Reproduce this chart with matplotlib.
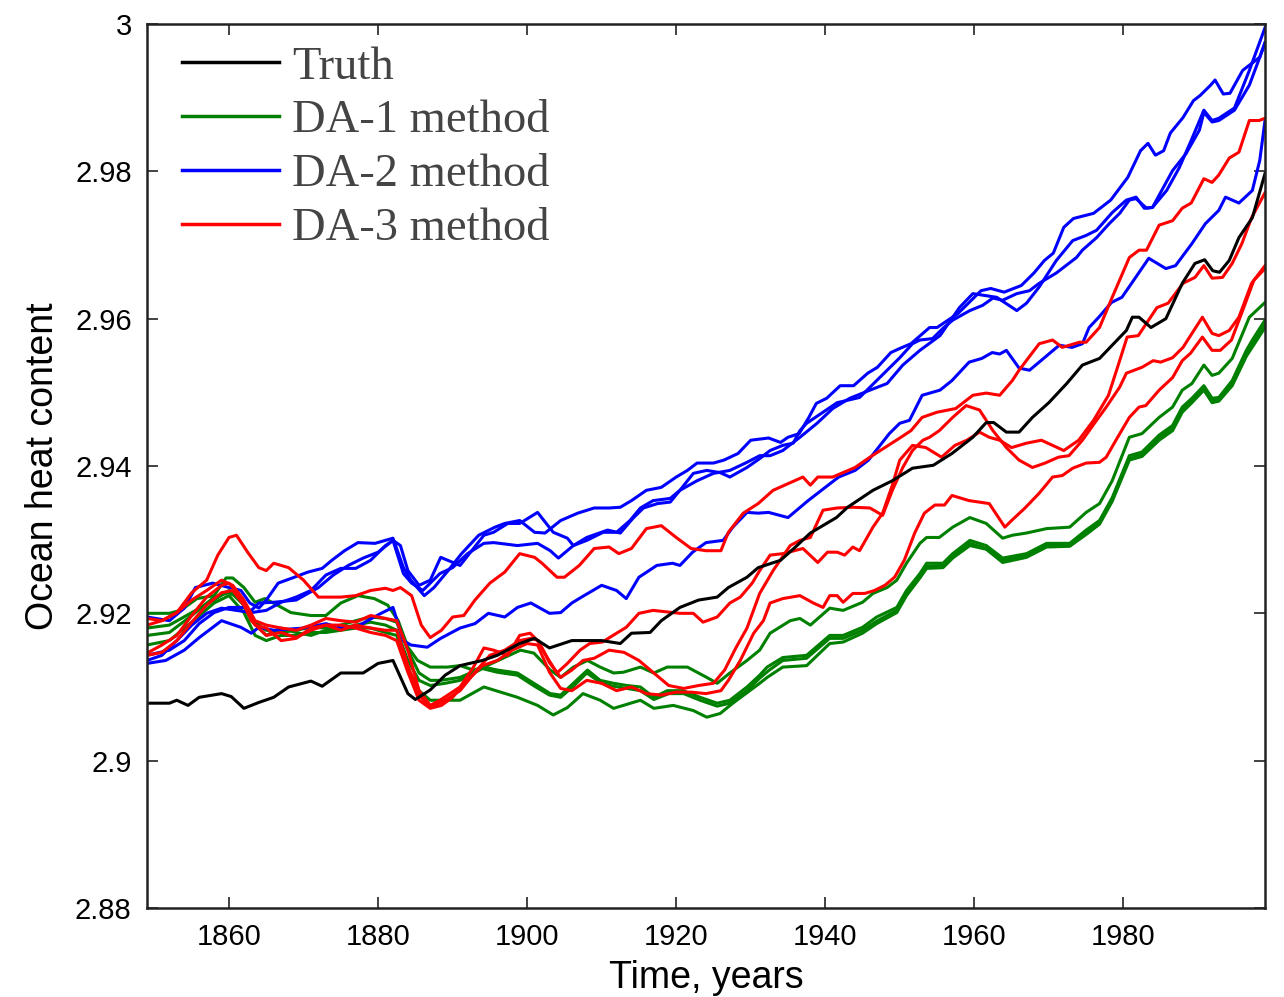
import matplotlib
matplotlib.use("Agg")
import matplotlib.pyplot as plt
import numpy as np
from matplotlib.lines import Line2D
from matplotlib.ticker import FixedLocator, FuncFormatter

# ---- data: (year, ocean heat content) ----
truth = [(1849, 2.9078), (1852, 2.9078), (1853, 2.9082), (1854.5, 2.9075), (1856, 2.9086),
         (1859, 2.9091), (1860.3, 2.9087), (1862, 2.9071), (1864, 2.9079), (1866, 2.9086),
         (1868, 2.9100), (1871, 2.9108), (1872.5, 2.9101), (1875, 2.9119), (1878, 2.9119),
         (1880, 2.9132), (1882, 2.9136), (1884, 2.9091), (1885, 2.9083), (1887, 2.9096),
         (1889, 2.9116), (1891, 2.9129), (1894, 2.9136), (1896, 2.9143), (1899, 2.9159),
         (1901, 2.9166), (1903, 2.9153), (1906, 2.9163), (1910, 2.9163), (1912.5, 2.9159),
         (1914, 2.9173), (1916.5, 2.9174), (1918, 2.9190), (1920.5, 2.9208), (1923, 2.9218),
         (1925.5, 2.9222), (1927, 2.9235), (1929.5, 2.9249), (1931, 2.9262), (1934, 2.9272),
         (1936, 2.9290), (1938, 2.9309), (1941.5, 2.9330), (1943, 2.9344), (1946.4, 2.9367),
         (1949, 2.9380), (1951.7, 2.9397), (1954.5, 2.9401), (1957, 2.9417), (1959.8, 2.9439),
         (1961.6, 2.9459), (1962.6, 2.9459), (1964.3, 2.9446), (1966, 2.9446), (1967.8, 2.9466),
         (1970, 2.9486), (1972.4, 2.9512), (1974.5, 2.9537), (1976.8, 2.9546), (1978.5, 2.9564),
         (1980.4, 2.9584), (1981.2, 2.9602), (1982.1, 2.9602), (1983.7, 2.9588), (1985.7, 2.9600),
         (1987.9, 2.9648), (1989.6, 2.9675), (1990.9, 2.9680), (1992, 2.9665), (1992.9, 2.9663),
         (1994.2, 2.9679), (1995.5, 2.9710), (1997.3, 2.9737), (1999, 2.9797)]

da1_a = [(1849, 2.9200), (1852, 2.9200), (1853.5, 2.9204), (1855.7, 2.9220), (1858, 2.9224),
         (1859.6, 2.9248), (1860.5, 2.9248), (1862, 2.9235), (1863.5, 2.9215), (1864.8, 2.9220),
         (1866.5, 2.9211), (1868.3, 2.9201), (1871, 2.9197), (1873, 2.9197), (1875, 2.9214),
         (1877.3, 2.9224), (1879.5, 2.9220), (1881.3, 2.9211), (1882.7, 2.9190), (1884, 2.9154),
         (1885.3, 2.9136), (1887, 2.9127), (1889.3, 2.9127), (1891, 2.9129), (1892.8, 2.9123),
         (1894.2, 2.9127), (1899.1, 2.9150), (1900.9, 2.9146), (1903.1, 2.9123), (1904.5, 2.9113),
         (1906.2, 2.9127), (1908.1, 2.9136), (1909.8, 2.9127), (1911.6, 2.9119), (1912.9, 2.9120),
         (1915.2, 2.9127), (1917, 2.9119), (1918.8, 2.9127), (1921.5, 2.9127), (1924.1, 2.9113),
         (1925.5, 2.9105), (1927.2, 2.9119), (1929.5, 2.9136), (1931.2, 2.9150), (1932.6, 2.9173),
         (1935.3, 2.9190), (1936.6, 2.9193), (1938, 2.9184), (1940.6, 2.9207), (1942.4, 2.9204),
         (1945, 2.9215), (1946.4, 2.9227), (1948.3, 2.9235), (1949.6, 2.9245), (1950.9, 2.9268),
         (1952.7, 2.9295), (1953.6, 2.9303), (1955.3, 2.9303), (1957.1, 2.9317), (1959.4, 2.9330),
         (1961.6, 2.9322), (1963.8, 2.9302), (1965.1, 2.9306), (1967, 2.9309), (1969.7, 2.9315),
         (1972.8, 2.9317), (1975, 2.9337), (1976.8, 2.9349), (1978.5, 2.9380), (1980.8, 2.9439),
         (1982.5, 2.9444), (1984.8, 2.9466), (1986.6, 2.9480), (1987.9, 2.9503), (1989.2, 2.9512),
         (1990.8, 2.9537), (1991.9, 2.9523), (1992.8, 2.9526), (1994.6, 2.9546), (1996.9, 2.9602),
         (1999, 2.9622)]

da1_b = [(1849, 2.9180), (1852, 2.9184), (1855, 2.9201), (1858, 2.9218), (1860, 2.9231),
         (1862, 2.9211), (1863.5, 2.9188), (1865, 2.9177), (1867, 2.9174), (1869, 2.9177),
         (1871, 2.9181), (1873, 2.9180), (1875, 2.9184), (1877, 2.9190), (1879, 2.9195),
         (1881, 2.9193), (1882.5, 2.9188), (1884, 2.9150), (1885.5, 2.9119), (1887, 2.9109),
         (1888.4, 2.9109), (1891, 2.9113), (1894.2, 2.9127), (1896, 2.9123), (1898.7, 2.9119),
         (1900.9, 2.9105), (1903.1, 2.9091), (1904.5, 2.9089), (1906.2, 2.9105), (1908.1, 2.9123),
         (1909.8, 2.9109), (1911.6, 2.9105), (1913.4, 2.9102), (1915.2, 2.9100), (1917, 2.9086),
         (1918.8, 2.9095), (1920.9, 2.9095), (1923.2, 2.9086), (1925.5, 2.9078), (1927.2, 2.9082),
         (1929.5, 2.9100), (1931.2, 2.9116), (1932.2, 2.9127), (1934.3, 2.9140), (1937.5, 2.9143),
         (1940.6, 2.9170), (1942.4, 2.9170), (1945, 2.9181), (1946.9, 2.9195), (1949.6, 2.9208),
         (1950.9, 2.9231), (1952.7, 2.9254), (1953.6, 2.9268), (1955.8, 2.9268), (1957.1, 2.9281),
         (1959.4, 2.9299), (1961.6, 2.9292), (1963.8, 2.9275), (1967, 2.9281), (1969.7, 2.9295),
         (1972.8, 2.9295), (1975, 2.9313), (1976.8, 2.9326), (1978.5, 2.9357), (1980.8, 2.9414),
         (1982.5, 2.9419), (1984.8, 2.9442), (1986.6, 2.9455), (1987.9, 2.9480), (1989.2, 2.9492),
         (1990.8, 2.9509), (1991.9, 2.9492), (1992.8, 2.9493), (1994.6, 2.9516), (1996.5, 2.9557),
         (1997.3, 2.9571), (1999, 2.9598)]

da1_c = [(1849, 2.9170), (1852, 2.9174), (1855, 2.9197), (1858, 2.9222), (1860, 2.9228),
         (1861.5, 2.9220), (1863, 2.9190), (1865, 2.9170), (1867, 2.9180), (1869, 2.9174),
         (1871, 2.9170), (1873, 2.9177), (1875, 2.9180), (1877, 2.9184), (1879, 2.9188),
         (1881, 2.9184), (1882.5, 2.9177), (1884, 2.9136), (1885.5, 2.9109), (1887, 2.9102),
         (1889, 2.9105), (1891, 2.9109), (1894, 2.9125), (1896, 2.9120), (1898.7, 2.9116),
         (1901, 2.9101), (1903, 2.9089), (1904.5, 2.9086), (1906.2, 2.9101), (1908, 2.9119),
         (1910, 2.9105), (1911.6, 2.9101), (1913.4, 2.9098), (1915.2, 2.9095), (1917, 2.9083),
         (1919, 2.9091), (1921, 2.9091), (1923.2, 2.9082), (1925.5, 2.9074), (1927.2, 2.9078),
         (1929.5, 2.9095), (1931.2, 2.9112), (1932.5, 2.9123), (1934.3, 2.9136), (1937.5, 2.9139),
         (1940.6, 2.9166), (1942.4, 2.9166), (1945, 2.9177), (1947, 2.9190), (1949.6, 2.9204),
         (1951, 2.9228), (1952.7, 2.9250), (1953.6, 2.9264), (1955.8, 2.9265), (1957.1, 2.9277),
         (1959.4, 2.9295), (1961.6, 2.9288), (1963.8, 2.9272), (1967, 2.9279), (1969.7, 2.9292),
         (1972.8, 2.9292), (1975, 2.9310), (1976.8, 2.9324), (1978.5, 2.9355), (1980.8, 2.9410),
         (1982.5, 2.9416), (1984.8, 2.9438), (1986.6, 2.9453), (1987.9, 2.9476), (1989.2, 2.9490),
         (1990.8, 2.9505), (1991.9, 2.9490), (1992.8, 2.9490), (1994.6, 2.9512), (1996.5, 2.9553),
         (1997.3, 2.9566), (1999, 2.9594)]

da1_d = [(1849, 2.9157), (1852, 2.9163), (1855, 2.9188), (1858, 2.9214), (1860, 2.9224),
         (1862, 2.9201), (1863.5, 2.9170), (1865, 2.9163), (1867, 2.9170), (1869, 2.9170),
         (1871, 2.9174), (1873, 2.9174), (1875, 2.9177), (1877, 2.9180), (1879, 2.9180),
         (1881, 2.9174), (1882.5, 2.9170), (1884, 2.9125), (1885.5, 2.9095), (1887, 2.9082),
         (1889, 2.9082), (1891, 2.9082), (1894.2, 2.9100), (1898.7, 2.9086), (1901.4, 2.9075),
         (1903.5, 2.9062), (1905.4, 2.9072), (1907.5, 2.9091), (1909.8, 2.9082), (1911.6, 2.9071),
         (1915.2, 2.9082), (1917, 2.9071), (1919.6, 2.9075), (1922.3, 2.9068), (1924.1, 2.9059),
         (1925.9, 2.9064), (1927.6, 2.9078), (1931.2, 2.9105), (1932.2, 2.9113), (1934.3, 2.9127),
         (1937.5, 2.9129), (1940.6, 2.9159), (1942.4, 2.9161), (1945, 2.9173), (1946.9, 2.9186),
         (1949.6, 2.9201), (1950.9, 2.9224), (1952.7, 2.9248), (1953.6, 2.9261), (1955.8, 2.9262),
         (1957.1, 2.9275), (1959.4, 2.9292), (1961.6, 2.9287), (1963.8, 2.9269), (1967, 2.9276),
         (1969.7, 2.9290), (1972.8, 2.9291), (1975, 2.9307), (1976.8, 2.9321), (1978.5, 2.9352),
         (1980.8, 2.9408), (1982.5, 2.9413), (1984.8, 2.9435), (1986.6, 2.9448), (1987.9, 2.9473),
         (1989.2, 2.9486), (1990.8, 2.9503), (1991.9, 2.9486), (1992.8, 2.9488), (1994.6, 2.9509),
         (1996.5, 2.9549), (1999, 2.9588)]

da2_a = [(1849, 2.9195), (1852, 2.9190), (1854, 2.9207), (1855.5, 2.9235), (1857.8, 2.9241),
         (1860, 2.9235), (1861.6, 2.9231), (1862.8, 2.9214), (1864, 2.9207), (1865, 2.9218),
         (1866.6, 2.9241), (1868.5, 2.9248), (1870.6, 2.9256), (1872.5, 2.9261), (1873.8, 2.9272),
         (1875.5, 2.9285), (1877.3, 2.9296), (1879.6, 2.9295), (1882, 2.9302), (1883.4, 2.9262),
         (1884.4, 2.9245), (1886.2, 2.9224), (1887.5, 2.9235), (1889.4, 2.9258), (1891.2, 2.9281),
         (1893.5, 2.9306), (1895.7, 2.9317), (1897, 2.9322), (1899, 2.9326), (1901, 2.9310),
         (1902.4, 2.9309), (1904.5, 2.9326), (1906.8, 2.9336), (1909, 2.9343), (1911, 2.9343),
         (1912.5, 2.9344), (1914, 2.9353), (1916, 2.9367), (1918, 2.9371), (1920, 2.9385),
         (1921.5, 2.9394), (1922.8, 2.9404), (1925, 2.9404), (1926.4, 2.9408), (1928.3, 2.9417),
         (1930, 2.9435), (1932.4, 2.9438), (1934, 2.9432), (1935, 2.9439), (1936.5, 2.9444),
         (1937.8, 2.9466), (1938.8, 2.9485), (1940.2, 2.9492), (1942, 2.9509), (1943.8, 2.9509),
         (1945.7, 2.9526), (1947, 2.9534), (1948.8, 2.9554), (1950.1, 2.9560), (1951.5, 2.9566),
         (1954, 2.9588), (1955, 2.9588), (1957.8, 2.9607), (1959.2, 2.9621), (1960.9, 2.9638),
         (1962.2, 2.9641), (1964, 2.9636), (1966.3, 2.9645), (1968, 2.9662), (1969.4, 2.9679),
         (1970.6, 2.9689), (1972, 2.9724), (1973.3, 2.9736), (1976, 2.9743), (1978.3, 2.9761),
         (1980.6, 2.9792), (1982.3, 2.9828), (1983.3, 2.9838), (1984.3, 2.9822), (1985.4, 2.9828),
         (1986.3, 2.9852), (1988, 2.9873), (1989.4, 2.9896), (1990.3, 2.9903), (1991.7, 2.9917),
         (1992.3, 2.9924), (1993.4, 2.9905), (1994.3, 2.9906), (1996, 2.9937), (1998.3, 2.9955),
         (1999, 2.9975)]

da2_b = [(1849, 2.9143), (1852, 2.9150), (1854, 2.9163), (1856, 2.9186), (1858, 2.9201),
         (1860, 2.9208), (1862, 2.9208), (1863, 2.9204), (1864, 2.9214), (1866, 2.9215),
         (1869, 2.9218), (1872, 2.9235), (1874, 2.9252), (1876, 2.9265), (1878, 2.9275),
         (1880, 2.9283), (1882, 2.9299), (1883, 2.9292), (1884, 2.9258), (1885.5, 2.9238),
         (1887, 2.9245), (1888.4, 2.9276), (1891, 2.9265), (1892.8, 2.9288), (1894.2, 2.9306),
         (1895.5, 2.9310), (1897.4, 2.9322), (1899, 2.9322), (1901.4, 2.9337), (1903.5, 2.9310),
         (1905.4, 2.9302), (1906.2, 2.9292), (1908, 2.9303), (1910.8, 2.9313), (1912.5, 2.9309),
         (1914.2, 2.9329), (1915.6, 2.9343), (1917.5, 2.9349), (1919.2, 2.9351), (1920.5, 2.9367),
         (1922.3, 2.9390), (1924.1, 2.9394), (1925.9, 2.9391), (1927.2, 2.9385), (1929.5, 2.9398),
         (1931.2, 2.9410), (1932.6, 2.9421), (1934.3, 2.9428), (1935.7, 2.9431), (1936.6, 2.9448),
         (1937.5, 2.9458), (1941.6, 2.9486), (1944.6, 2.9493), (1946.9, 2.9516), (1948.7, 2.9534),
         (1950, 2.9547), (1951.7, 2.9566), (1952.7, 2.9571), (1954.4, 2.9573), (1955.8, 2.9587),
         (1957.1, 2.9598), (1959.4, 2.9611), (1961.1, 2.9618), (1962.5, 2.9628), (1963.8, 2.9625),
         (1965.7, 2.9634), (1967.4, 2.9638), (1968.7, 2.9648), (1971, 2.9662), (1973.7, 2.9683),
         (1974.5, 2.9693), (1976.4, 2.9710), (1978.1, 2.9729), (1979.5, 2.9743), (1980.8, 2.9761),
         (1981.7, 2.9763), (1983.1, 2.9750), (1983.9, 2.9751), (1985.8, 2.9774), (1987.5, 2.9805),
         (1989.1, 2.9842), (1990.8, 2.9883), (1991.9, 2.9869), (1992.8, 2.9872), (1994.9, 2.9886),
         (1996.9, 2.9937), (1999, 2.9995)]

da2_c = [(1849, 2.9136), (1851, 2.9143), (1853, 2.9163), (1855, 2.9184), (1857, 2.9200),
         (1859, 2.9207), (1861, 2.9204), (1863, 2.9201), (1865, 2.9204), (1867, 2.9215),
         (1869, 2.9222), (1871, 2.9231), (1873, 2.9252), (1875, 2.9261), (1877, 2.9261),
         (1879, 2.9272), (1881, 2.9292), (1882, 2.9299), (1883.4, 2.9254), (1884.5, 2.9241),
         (1886, 2.9231), (1888.3, 2.9254), (1890, 2.9262), (1892, 2.9281), (1894.2, 2.9295),
         (1895.5, 2.9296), (1898.7, 2.9292), (1901.4, 2.9295), (1903.1, 2.9285), (1904.2, 2.9275),
         (1906.2, 2.9292), (1908, 2.9299), (1910.2, 2.9310), (1912, 2.9310), (1913.8, 2.9326),
         (1915.2, 2.9343), (1916.9, 2.9353), (1919.2, 2.9356), (1920.5, 2.9367), (1922.8, 2.9380),
         (1925, 2.9390), (1927.2, 2.9394), (1929.5, 2.9405), (1931.2, 2.9414), (1932.6, 2.9414),
         (1934.3, 2.9421), (1936.6, 2.9439), (1938.9, 2.9458), (1941, 2.9478), (1943.3, 2.9492),
         (1946, 2.9503), (1948.3, 2.9512), (1950.4, 2.9537), (1952.7, 2.9557), (1955.4, 2.9577),
         (1958, 2.9615), (1959.8, 2.9634), (1963, 2.9629), (1965.7, 2.9611), (1967, 2.9621),
         (1968.7, 2.9643), (1971, 2.9679), (1973.2, 2.9706), (1975, 2.9713), (1976.4, 2.9720),
         (1978.5, 2.9744), (1980.4, 2.9761), (1981.7, 2.9765), (1982.8, 2.9750), (1983.9, 2.9751),
         (1986.6, 2.9801), (1988.4, 2.9824), (1990.2, 2.9856), (1990.8, 2.9880), (1991.9, 2.9867),
         (1992.8, 2.9869), (1994.9, 2.9883), (1996.9, 2.9917), (1999, 2.9974)]

da2_d = [(1849, 2.9132), (1851.5, 2.9136), (1854, 2.9150), (1856, 2.9167), (1859, 2.9190),
         (1861.6, 2.9181), (1863, 2.9173), (1864, 2.9181), (1866, 2.9177), (1870, 2.9180),
         (1873, 2.9186), (1875, 2.9180), (1877, 2.9181), (1878.6, 2.9190), (1880.4, 2.9200),
         (1882, 2.9208), (1883.4, 2.9163), (1884.4, 2.9157), (1886.6, 2.9154), (1888.4, 2.9166),
         (1891, 2.9180), (1893, 2.9186), (1894.8, 2.9200), (1897, 2.9195), (1898.7, 2.9208),
         (1900.5, 2.9214), (1903, 2.9200), (1904.5, 2.9201), (1906, 2.9214), (1907.3, 2.9222),
         (1910, 2.9238), (1912, 2.9231), (1913.3, 2.9220), (1915, 2.9249), (1917.4, 2.9265),
         (1919.5, 2.9268), (1920.5, 2.9265), (1922.2, 2.9283), (1924, 2.9296), (1926.3, 2.9299),
         (1927.6, 2.9317), (1929.5, 2.9337), (1931, 2.9336), (1932.4, 2.9337), (1935, 2.9330),
         (1937.7, 2.9353), (1940, 2.9371), (1941.8, 2.9385), (1944, 2.9394), (1945.8, 2.9408),
         (1948.6, 2.9444), (1950, 2.9458), (1951.3, 2.9462), (1953, 2.9496), (1955.4, 2.9503),
         (1957, 2.9516), (1959.3, 2.9541), (1961, 2.9546), (1962.4, 2.9554), (1963.4, 2.9552),
         (1964.3, 2.9557), (1966, 2.9533), (1967.4, 2.9530), (1968.7, 2.9541), (1971.4, 2.9564),
         (1973.1, 2.9561), (1974.5, 2.9566), (1975.4, 2.9588), (1976.7, 2.9602), (1978.4, 2.9622),
         (1979.8, 2.9629), (1981.1, 2.9648), (1983, 2.9676), (1983.4, 2.9682), (1985.7, 2.9668),
         (1987, 2.9672), (1989.2, 2.9702), (1991, 2.9729), (1992.8, 2.9747), (1993.7, 2.9765),
         (1995.5, 2.9757), (1997.3, 2.9774), (1998.3, 2.9815), (1999, 2.9869)]

da3_a = [(1849, 2.9184), (1851, 2.9190), (1853, 2.9201), (1855, 2.9228), (1857, 2.9245),
         (1858.5, 2.9279), (1860, 2.9303), (1861, 2.9306), (1862.5, 2.9283), (1864, 2.9262),
         (1865, 2.9258), (1866, 2.9268), (1868, 2.9262), (1870, 2.9245), (1872, 2.9222),
         (1875, 2.9222), (1877, 2.9224), (1879, 2.9231), (1881, 2.9234), (1882, 2.9231),
         (1883, 2.9235), (1884.5, 2.9224), (1885.8, 2.9184), (1887, 2.9167), (1888.5, 2.9177),
         (1890, 2.9195), (1891.5, 2.9197), (1893, 2.9218), (1895, 2.9241), (1897, 2.9256),
         (1899, 2.9281), (1901, 2.9276), (1902, 2.9268), (1904, 2.9249), (1905, 2.9249),
         (1907, 2.9265), (1909, 2.9288), (1911, 2.9290), (1912.3, 2.9281), (1914, 2.9288),
         (1916, 2.9315), (1918, 2.9319), (1920, 2.9303), (1922, 2.9288), (1924, 2.9285),
         (1926, 2.9285), (1927, 2.9310), (1929, 2.9336), (1931, 2.9349), (1933, 2.9367),
         (1935, 2.9376), (1937, 2.9385), (1938, 2.9374), (1939, 2.9385), (1941, 2.9385),
         (1944, 2.9398), (1946, 2.9412), (1948, 2.9425), (1950, 2.9438), (1951.5, 2.9448),
         (1953, 2.9466), (1955, 2.9473), (1957.5, 2.9478), (1959.8, 2.9496), (1961.6, 2.9499),
         (1963.4, 2.9496), (1965.1, 2.9516), (1966, 2.9530), (1968.7, 2.9566), (1970.5, 2.9571),
         (1971.8, 2.9561), (1974.1, 2.9568), (1975, 2.9568), (1976.8, 2.9588), (1978.5, 2.9629),
         (1980.8, 2.9683), (1982.1, 2.9693), (1983.1, 2.9693), (1984.8, 2.9727), (1986.6, 2.9733),
         (1987.9, 2.9750), (1989.1, 2.9757), (1990.8, 2.9790), (1991.9, 2.9785), (1992.8, 2.9795),
         (1994.2, 2.9818), (1995.5, 2.9826), (1996.9, 2.9869), (1998.2, 2.9869), (1999, 2.9872)]

da3_b = [(1849, 2.9193), (1851, 2.9190), (1853, 2.9201), (1855, 2.9218), (1857, 2.9231),
         (1859, 2.9245), (1860.5, 2.9238), (1862, 2.9218), (1863.5, 2.9190), (1865, 2.9184),
         (1867, 2.9180), (1869, 2.9177), (1871, 2.9184), (1873, 2.9193), (1875, 2.9190),
         (1877, 2.9188), (1879, 2.9197), (1881, 2.9193), (1882.5, 2.9190), (1884, 2.9150),
         (1885.5, 2.9095), (1887, 2.9075), (1888.3, 2.9082), (1891, 2.9100), (1892.8, 2.9127),
         (1894.2, 2.9153), (1895.5, 2.9150), (1897.4, 2.9143), (1899, 2.9170), (1900.4, 2.9173),
         (1901.4, 2.9163), (1902.7, 2.9140), (1904, 2.9119), (1905.4, 2.9132), (1907.1, 2.9150),
         (1908.4, 2.9159), (1910.1, 2.9161), (1912, 2.9173), (1913.3, 2.9181), (1915, 2.9200),
         (1916.9, 2.9204), (1920.5, 2.9200), (1922.3, 2.9200), (1923.6, 2.9188), (1925.5, 2.9195),
         (1927.2, 2.9214), (1928.6, 2.9222), (1930.2, 2.9241), (1931.2, 2.9258), (1932.6, 2.9279),
         (1934.3, 2.9281), (1937, 2.9288), (1939, 2.9269), (1940.3, 2.9283), (1941.6, 2.9283),
         (1942.6, 2.9279), (1943.7, 2.9290), (1944.6, 2.9285), (1946.4, 2.9317), (1947.7, 2.9336),
         (1949, 2.9374), (1950, 2.9408), (1951.7, 2.9428), (1953.5, 2.9425), (1955.6, 2.9412),
         (1957.4, 2.9428), (1959, 2.9435), (1960.7, 2.9446), (1962, 2.9439), (1963.4, 2.9435),
         (1965, 2.9425), (1967, 2.9431), (1969, 2.9435), (1970.5, 2.9428), (1972, 2.9421),
         (1974, 2.9435), (1976, 2.9462), (1978, 2.9496), (1979.5, 2.9543), (1980.5, 2.9575),
         (1982, 2.9577), (1984.5, 2.9615), (1986, 2.9621), (1988, 2.9648), (1989.6, 2.9656),
         (1990.8, 2.9672), (1991.9, 2.9655), (1993.3, 2.9656), (1994.6, 2.9675), (1995.9, 2.9702),
         (1997.2, 2.9737), (1999, 2.9771)]

da3_c = [(1849, 2.9146), (1851, 2.9157), (1853, 2.9170), (1855, 2.9197), (1857, 2.9222),
         (1859, 2.9238), (1860, 2.9241), (1861.5, 2.9224), (1863, 2.9190), (1865, 2.9170),
         (1867, 2.9174), (1869, 2.9167), (1871, 2.9177), (1873, 2.9184), (1875, 2.9177),
         (1877, 2.9184), (1879, 2.9180), (1881, 2.9177), (1882.5, 2.9177), (1884, 2.9129),
         (1885.5, 2.9089), (1887, 2.9072), (1889, 2.9082), (1891, 2.9095), (1893, 2.9120),
         (1895, 2.9143), (1897, 2.9150), (1899, 2.9163), (1900.5, 2.9166), (1901.5, 2.9163),
         (1903, 2.9133), (1904.5, 2.9113), (1906, 2.9123), (1907.5, 2.9136), (1909, 2.9139),
         (1911, 2.9150), (1913, 2.9147), (1915, 2.9136), (1917, 2.9119), (1919, 2.9102),
         (1921, 2.9098), (1923, 2.9102), (1925, 2.9105), (1926.5, 2.9123), (1928, 2.9153),
         (1929.5, 2.9180), (1931.2, 2.9227), (1933, 2.9258), (1935.3, 2.9292), (1936.6, 2.9299),
         (1938, 2.9303), (1939.7, 2.9340), (1941.6, 2.9343), (1943.7, 2.9344), (1946, 2.9343),
         (1947.7, 2.9333), (1949, 2.9367), (1950.4, 2.9398), (1951.7, 2.9421), (1953.1, 2.9435),
         (1954, 2.9439), (1955.3, 2.9448), (1957.1, 2.9466), (1958.9, 2.9482), (1960.7, 2.9476),
         (1962.5, 2.9448), (1964.3, 2.9425), (1966, 2.9408), (1967.8, 2.9398), (1969.5, 2.9404),
         (1971.3, 2.9412), (1972.7, 2.9414), (1974.5, 2.9435), (1976.4, 2.9462), (1977.7, 2.9480),
         (1979.5, 2.9507), (1980.4, 2.9526), (1982.5, 2.9534), (1984, 2.9543), (1985, 2.9541),
         (1986.6, 2.9547), (1988, 2.9561), (1989.2, 2.9580), (1990.6, 2.9602), (1991.9, 2.9580),
         (1992.8, 2.9577), (1994.2, 2.9584), (1995.5, 2.9602), (1997.2, 2.9648), (1999, 2.9672)]

da3_d = [(1849, 2.9143), (1851, 2.9147), (1853, 2.9163), (1855, 2.9188), (1857, 2.9211),
         (1859, 2.9228), (1860.5, 2.9231), (1862, 2.9211), (1863.5, 2.9184), (1865, 2.9180),
         (1867, 2.9163), (1869, 2.9166), (1871, 2.9180), (1873, 2.9184), (1875, 2.9184),
         (1877, 2.9180), (1879, 2.9174), (1881, 2.9170), (1882.5, 2.9163), (1884, 2.9120),
         (1885.5, 2.9082), (1887, 2.9071), (1888.5, 2.9075), (1890, 2.9086), (1892, 2.9109),
         (1894, 2.9129), (1896, 2.9136), (1898, 2.9150), (1900, 2.9159), (1901.4, 2.9157),
         (1903, 2.9120), (1904.5, 2.9098), (1906, 2.9095), (1908, 2.9109), (1910, 2.9105),
         (1912, 2.9095), (1914, 2.9100), (1916, 2.9091), (1918, 2.9089), (1920, 2.9093),
         (1922, 2.9093), (1924, 2.9091), (1926, 2.9095), (1927, 2.9109), (1928.6, 2.9136),
         (1930.4, 2.9173), (1931.7, 2.9190), (1932.6, 2.9214), (1934.3, 2.9220), (1936.6, 2.9224),
         (1938.4, 2.9214), (1939.7, 2.9208), (1940.6, 2.9224), (1941.6, 2.9224), (1942.4, 2.9215),
         (1943.7, 2.9227), (1945.3, 2.9227), (1946.6, 2.9231), (1948, 2.9238), (1949.3, 2.9249),
         (1950.6, 2.9272), (1952, 2.9309), (1953.3, 2.9336), (1954.7, 2.9347), (1956, 2.9347),
         (1957, 2.9360), (1959.3, 2.9353), (1962, 2.9349), (1964.1, 2.9317), (1965, 2.9326),
         (1966.8, 2.9343), (1968.7, 2.9363), (1970.5, 2.9385), (1971.8, 2.9387), (1973.2, 2.9397),
         (1975, 2.9404), (1976.8, 2.9405), (1977.7, 2.9412), (1979, 2.9435), (1980.8, 2.9466),
         (1982.1, 2.9480), (1983, 2.9482), (1984.8, 2.9503), (1986.6, 2.9520), (1987.9, 2.9543),
         (1989, 2.9553), (1990.6, 2.9575), (1991.9, 2.9557), (1993, 2.9557), (1994.5, 2.9571),
         (1996, 2.9611), (1997.5, 2.9652), (1999, 2.9668)]

da1_runs = [da1_a, da1_b, da1_c, da1_d]
da2_runs = [da2_a, da2_b, da2_c, da2_d]
da3_runs = [da3_a, da3_b, da3_c, da3_d]

legend_labels = ["Truth", "DA-1 method", "DA-2 method", "DA-3 method"]
colors = ["black", "#008000", "#0000ff", "#ff0000"]
x_ticks = [1860, 1880, 1900, 1920, 1940, 1960, 1980]
y_ticks = [2.88, 2.90, 2.92, 2.94, 2.96, 2.98, 3.00]

# ---- figure ----
fig = plt.figure(figsize=(12.84, 9.97), dpi=100)
ax = fig.add_axes([0.1145, 0.0893, 0.8707, 0.8866])

lw = 2.2
for runs, c in [(da1_runs, colors[1]), (da2_runs, colors[2]), (da3_runs, colors[3])]:
    for run in runs:
        yr, val = np.array(run).T
        ax.plot(yr, val, color=c, lw=lw, solid_joinstyle="round")
yr, val = np.array(truth).T
ax.plot(yr, val, color=colors[0], lw=lw, solid_joinstyle="round")

ax.set_xlim(1849, 1999)
ax.set_ylim(2.88, 3.0)
ax.xaxis.set_major_locator(FixedLocator(x_ticks))
ax.yaxis.set_major_locator(FixedLocator(y_ticks))
ax.yaxis.set_major_formatter(FuncFormatter(lambda v, p: f"{v:g}"))

tick_font = "Liberation Sans"
ax.tick_params(direction="in", length=8, width=1.2, top=True, right=True,
               labelsize=21, pad=11, color="#222222")
for lab in ax.get_xticklabels() + ax.get_yticklabels():
    lab.set_fontfamily(tick_font)
for s in ax.spines.values():
    s.set_linewidth(1.8)
    s.set_color("#222222")

ax.set_xlabel("Time, years", fontsize=27, fontfamily=tick_font, labelpad=6)
ax.set_ylabel("Ocean heat content", fontsize=27, fontfamily=tick_font, labelpad=10)

handles = [Line2D([0], [0], color=c, lw=2.5) for c in colors]
leg = ax.legend(handles, legend_labels, loc="upper left", bbox_to_anchor=(0.031, 0.975),
                frameon=False, borderaxespad=0, borderpad=0, handlelength=2.1,
                handletextpad=0.28, labelspacing=0.24,
                prop={"family": "Liberation Serif", "size": 33.5})
for t in leg.get_texts():
    t.set_color("#444444")

fig.savefig("out.png", dpi=100)
